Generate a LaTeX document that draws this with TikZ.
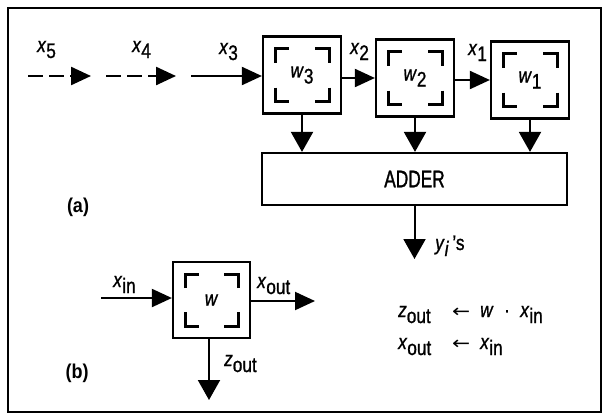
\documentclass[tikz,border=0pt]{standalone}
\usepackage{fontspec}
\setmainfont{Liberation Sans}[FakeStretch=0.82,FakeBold=1]
\newfontfamily\narrowfont{Liberation Sans}[FakeStretch=0.72,FakeBold=1.2]
\newfontfamily\boldlab{Liberation Sans}[FakeStretch=0.9]
\newfontfamily\arrowfont{DejaVu Sans}[FakeStretch=1.2]
\usetikzlibrary{arrows.meta}
\newcommand\vsub[2]{\textit{#1}\raisebox{-6pt}{#2}}
\begin{document}
\begin{tikzpicture}[x=1pt,y=-1pt,
  every node/.style={font=\fontsize{21}{23}\selectfont},
  cell/.style={draw, line width=2.2pt, minimum width=78pt, minimum height=77pt, inner sep=0pt,
    path picture={
      \draw[line width=3pt] ([xshift=12pt,yshift=-26pt]path picture bounding box.north west) -- ([xshift=12pt,yshift=-12pt]path picture bounding box.north west) -- ([xshift=26pt,yshift=-12pt]path picture bounding box.north west);
      \draw[line width=3pt] ([xshift=-12pt,yshift=-26pt]path picture bounding box.north east) -- ([xshift=-12pt,yshift=-12pt]path picture bounding box.north east) -- ([xshift=-26pt,yshift=-12pt]path picture bounding box.north east);
      \draw[line width=3pt] ([xshift=12pt,yshift=26pt]path picture bounding box.south west) -- ([xshift=12pt,yshift=12pt]path picture bounding box.south west) -- ([xshift=26pt,yshift=12pt]path picture bounding box.south west);
      \draw[line width=3pt] ([xshift=-12pt,yshift=26pt]path picture bounding box.south east) -- ([xshift=-12pt,yshift=12pt]path picture bounding box.south east) -- ([xshift=-26pt,yshift=12pt]path picture bounding box.south east);
    }},
  conn/.style={line width=2pt, -{Triangle[length=20pt,width=18pt]}},
  cdown/.style={line width=2pt, -{Triangle[length=20pt,width=22pt]}},
  dashedconn/.style={conn, line width=2.4pt, dash pattern=on 15pt off 6pt},
  lab/.style={anchor=base west, inner sep=0pt},
  plab/.style={font=\boldlab\bfseries\fontsize{20}{22}\selectfont, inner sep=0pt},
  arr/.style={anchor=base west, inner sep=0pt, font=\arrowfont\fontsize{18}{20}\selectfont}
]
\useasboundingbox (0,0) rectangle (604,416);
\draw[line width=2.2pt] (8,8) rectangle (601,412);

% (a) systolic array
\node[cell] (w3) at (302,75) {\vsub{w}{3}};
\node[cell] (w2) at (415,78) {\vsub{w}{2}};
\node[cell] (w1) at (530,80) {\vsub{w}{1}};
\node[draw, line width=2.2pt, minimum width=305pt, minimum height=52pt, inner sep=0pt,
      font=\narrowfont\fontsize{24}{24}\selectfont] (add) at (414.5,179) {ADDER};

\coordinate (x5s) at (28,76);
\coordinate (x5e) at (91,76);
\coordinate (x4s) at (106,76);
\coordinate (x4e) at (176,76);
\coordinate (x3s) at (191,76);
\draw[dashedconn] (x5s) -- (x5e);
\draw[dashedconn] (x4s) -- (x4e);
\draw[conn] (x3s) -- (x3s -| w3.west);
\draw[conn] (w3.east |- w2.west) -- (w2.west);
\draw[conn] (w2.east |- w1.west) -- (w1.west);
\draw[cdown] (w3.south) -- (w3.south |- add.north);
\draw[cdown] (w2.south) -- (w2.south |- add.north);
\draw[cdown] (w1.south) -- (w1.south |- add.north);
\coordinate (yout) at (414.5,259);
\draw[cdown] (add.south) -- (yout);

\node[lab] (lx5) at (37,52) {\vsub{x}{5}};
\node[lab] (lx4) at (132,52) {\vsub{x}{4}};
\node[lab] (lx3) at (219,54) {\vsub{x}{3}};
\node[lab] (lx2) at (350,54) {\vsub{x}{2}};
\node[lab] (lx1) at (468,55) {\vsub{x}{1}};
\node[lab] (ly) at (435,250) {\textit{y}\raisebox{-6pt}{\textit{i}}\,'s};
\node[plab] (la) at (78,207) {(a)};

% (b) single cell
\node[cell, minimum width=77pt, minimum height=76pt] (wb) at (211.5,300) {\textit{w}};
\coordinate (xins) at (101,298);
\coordinate (xoute) at (315,301);
\coordinate (zoute) at (209,400);
\draw[conn] (xins) -- (xins -| wb.west);
\draw[conn] (wb.east |- xoute) -- (xoute);
\draw[cdown] (zoute |- wb.south) -- (zoute);
\node[lab] (lxin) at (113,287) {\vsub{x}{in}};
\node[lab] (lxout) at (257,288) {\vsub{x}{out}};
\node[lab] (lzout) at (224,366) {\vsub{z}{out}};
\node[plab] (lb) at (77,373) {(b)};

\node[lab] (e1l) at (398,317) {\vsub{z}{out}};
\node[arr] (e1a) at (452,317) {←};
\node[lab] (e1r) at (480,317) {\textit{w}\enspace·\enspace\vsub{x}{in}};
\node[lab] (e2l) at (398,349) {\vsub{x}{out}};
\node[arr] (e2a) at (452,349) {←};
\node[lab] (e2r) at (480,349) {\vsub{x}{in}};
\end{tikzpicture}
\end{document}
